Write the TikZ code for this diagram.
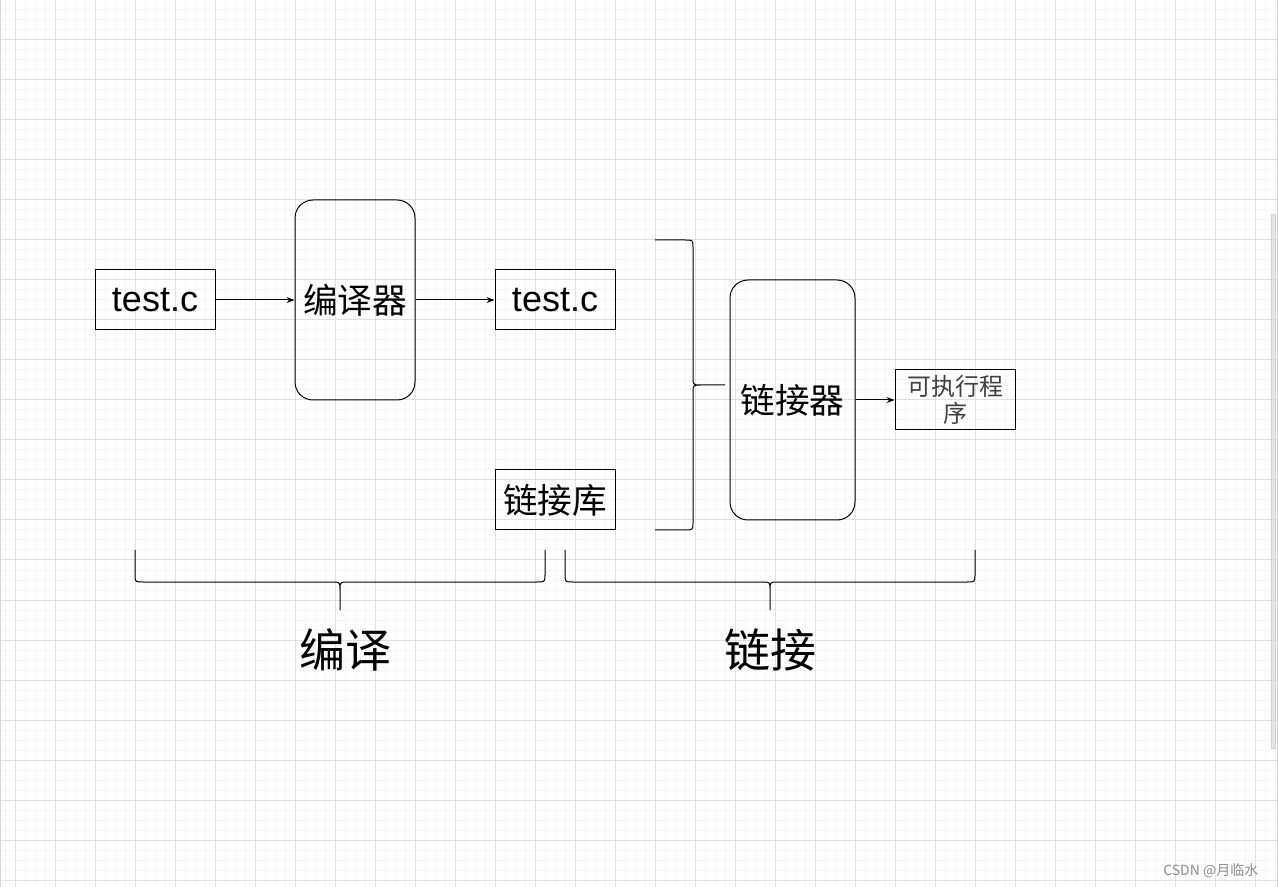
\documentclass[tikz,border=0pt]{standalone}
\usepackage{fontspec}
\setmainfont{Liberation Sans}
\newfontfamily\cjk{Noto Sans CJK SC}
\usetikzlibrary{arrows.meta}
\definecolor{gridminor}{RGB}{245,245,245}
\definecolor{gridmajor}{RGB}{224,224,224}

\begin{document}
\begin{tikzpicture}[x=0.75pt, y=-0.75pt,
         box/.style = {draw, line width=0.75pt, inner sep=0pt,
                       minimum width=90pt, minimum height=45pt},
        tool/.style = {box, rounded corners=13.5pt, minimum height=150pt},
         arr/.style = {-{Stealth[length=6pt,width=4.5pt]}, line width=0.75pt},
       brace/.style = {line width=0.75pt},
          zh/.style = {font=\cjk\fontsize{26}{30}\selectfont},
          en/.style = {font=\fontsize{27}{32}\selectfont}
                    ]
        \useasboundingbox (0,0) rectangle (1278,887);
        % grid
        \fill[white] (0,0) rectangle (1278,887);
        \foreach \x in {5,15,...,1275} \draw[gridminor, line width=0.75pt] (\x,0) -- (\x,887);
        \foreach \y in {10,20,...,880} \draw[gridminor, line width=0.75pt] (0,\y) -- (1278,\y);
        \foreach \x in {15,55,...,1255} \draw[gridmajor, line width=0.75pt] (\x,0) -- (\x,887);
        \foreach \y in {0,40,...,880} \draw[gridmajor, line width=0.75pt] (0,\y) -- (1278,\y);
        \draw[gray!30] (0.5,0) -- (0.5,887);
        \draw[gray!40] (1277,0) -- (1277,887);
        \filldraw[fill=gray!20, draw=gray!35] (1271,214) rectangle (1275,748);

        % compile stage
        \node[box, en]  (src) at (155,300) {test.c};
        \node[tool, zh] (cc)  at (355,300) {编译器};
        \node[box, en]  (obj) at (555,300) {test.c};
        \node[box, zh]  (lib) at (555,500) {链接库};
        \draw[arr] (src) -- (cc);
        \draw[arr] (cc) -- (obj);

        % link stage
        \node[tool, zh, minimum width=93.75pt, minimum height=180pt] (ld) at (792.5,400) {链接器};
        \node[box, text width=90pt, align=center, text=black!75,
              font=\cjk\fontsize{18}{20}\selectfont] (exe) at (955,400) {可执行程\\序};
        \draw[arr] (ld) -- (exe);

        % right brace
        \draw[brace] (655,240) -- (685,240) .. controls (693,240) .. (693,248)
                     -- (693,377) .. controls (693,385) .. (701,385) -- (725,385)
                     (701,385) .. controls (693,385) .. (693,393)
                     -- (693,522) .. controls (693,530) .. (685,530) -- (655,530);

        % bottom braces
        \draw[brace] (135,550) -- (135,574) .. controls (135,582) .. (143,582)
                     -- (332,582) .. controls (340,582) .. (340,590) -- (340,610)
                     (340,590) .. controls (340,582) .. (348,582)
                     -- (537,582) .. controls (545,582) .. (545,574) -- (545,550);
        \draw[brace] (565,550) -- (565,574) .. controls (565,582) .. (573,582)
                     -- (762,582) .. controls (770,582) .. (770,590) -- (770,610)
                     (770,590) .. controls (770,582) .. (778,582)
                     -- (967,582) .. controls (975,582) .. (975,574) -- (975,550);
        \node[font=\cjk\fontsize{34.5}{40}\selectfont] (lcomp) at (345,650) {编译};
        \node[font=\cjk\fontsize{34.5}{40}\selectfont] (llink) at (770,650) {链接};

        % watermark
        \node[anchor=east, text=black!45, font=\cjk\fontsize{10.5}{12}\selectfont] (wm) at (1263,871) {CSDN @月临水};
    \end{tikzpicture}
\end{document}
